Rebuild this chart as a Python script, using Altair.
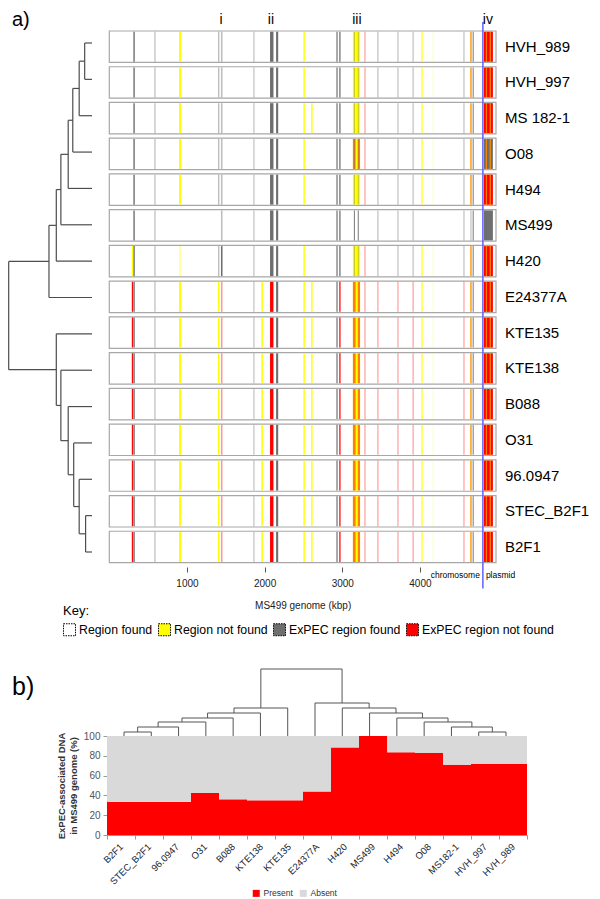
import altair as alt
import pandas as pd

FONT = "Liberation Sans"
W, H = 584, 891

# ---------------- panel a data ----------------
ROWS = ["HVH_989", "HVH_997", "MS 182-1", "O08", "H494", "MS499", "H420",
        "E24377A", "KTE135", "KTE138", "B088", "O31", "96.0947", "STEC_B2F1", "B2F1"]
GENOME_END = 4980          # kbp
PLASMID_START = 4811       # kbp
TICKS = [1000, 2000, 3000, 4000]
REGION_LABELS = ["i", "ii", "iii", "iv"]
REGION_POS = [1438, 2081, 3189, 4875]

# genomic features (kbp) and, per strain row (15 chars, order of ROWS), their state
# y: region not found, q: faint region not found, g: ExPEC found, l: faint ExPEC found,
# r: ExPEC not found, p: faint ExPEC not found, h: half ExPEC not found,
# o: overlapping not-found regions
FEAT_START = [290, 310, 580, 898, 1400, 1438, 1855, 1958, 2070, 2148, 2500, 2600,
              2925, 2962, 3137, 3137, 3200, 3150, 3200, 3285, 3452, 3710, 3905, 4020,
              4165, 4560, 4650, 4680, 4824, 4850, 4900]
FEAT_END = [305, 328, 596, 925, 1418, 1458, 1870, 1978, 2114, 2175, 2518, 2618,
            2940, 2978, 3229, 3172, 3229, 3162, 3212, 3300, 3467, 3725, 3920, 4035,
            4175, 4575, 4665, 4692, 4940, 4862, 4912]
FEAT_CODE = [
    "......yrrrrrrrr",
    "ggggggggggggggg",
    "lllllllllllllll",
    "yyyyy.qyyyyyyyy",
    "lllll.lyyyyyyyy",
    "llllllgpppppppp",
    "lllllllllllllll",
    ".......yyyyyyyy",
    "gggggggrrrrrrrr",
    "ggggggggggggggg",
    "yyyyy.yyyyyyyyy",
    "..y....yyyyyyyy",
    "ggggggggggggggg",
    "gggggggrrrrrrrr",
    "yyyyy.yyyyyyyyy",
    "...h...hhhhhhhh",
    "...h...hhhhhhhh",
    "lllllgl........",
    "lllllgl........",
    "ppppp.ppppppppp",
    "lllllllpppppppp",
    "lllllllpppppppp",
    "lllllllpppppppp",
    "yyyyy.yyyyyyyyy",
    "qqqqq.qqqqqqqqq",
    "lllllllpppppppp",
    "ooooolooooooooo",
    "ggggggggggggggg",
    "rrrgrgrrrrrrrrr",
    "ooooo.ooooooooo",
    "ooooo.ooooooooo",
]

KEY_CATS = ["Region found", "Region not found", "ExPEC region found", "ExPEC region not found"]
KEY_COLORS = ["#ffffff", "#ffff00", "#6e6e6e", "#ff0000"]
CODE_MAP = {
    "y": [("Region not found", 1.0)],
    "q": [("Region not found", 0.35)],
    "g": [("ExPEC region found", 1.0)],
    "l": [("ExPEC region found", 0.45)],
    "r": [("ExPEC region not found", 1.0)],
    "p": [("ExPEC region not found", 0.4)],
    "h": [("ExPEC region not found", 0.5)],
    "o": [("Region not found", 1.0), ("ExPEC region not found", 0.5)],
}

# dendrogram of panel a (leaves = ROWS order), merge heights in px-like units
DA_LEFT = [0, 15, 16, 17, 18, 19, 20, 13, 12, 11, 10, 9, 8, 21]
DA_RIGHT = [1, 2, 3, 4, 5, 6, 7, 14, 22, 23, 24, 25, 26, 27]
DA_HEIGHT = [8, 14, 21, 26, 34, 39, 47, 7, 14, 20, 26, 34, 39, 91]

# ---------------- panel b data ----------------
STRAINS_B = ["B2F1", "STEC_B2F1", "96.0947", "O31", "B088", "KTE138", "KTE135", "E24377A",
             "H420", "MS499", "H494", "O08", "MS182-1", "HVH_997", "HVH_989"]
PRESENT = [33.5, 33.5, 33.5, 42.5, 36, 35, 35, 44, 88.5, 100, 83.5, 83, 71, 72, 72]
Y_TICKS_B = [0, 20, 40, 60, 80, 100]
DB_LEFT = [0, 15, 16, 17, 18, 19, 13, 12, 11, 10, 9, 8, 7, 20]
DB_RIGHT = [1, 2, 3, 4, 5, 6, 14, 21, 22, 23, 24, 25, 26, 27]
DB_HEIGHT = [4, 9, 14, 18, 23, 28, 4, 9, 14, 18, 23, 28, 33, 67]


def dendro(n, left, right, height):
    pos = {i: (float(i), 0.0) for i in range(n)}
    segs = []
    for k, (a, b, h) in enumerate(zip(left, right, height)):
        pa, ha = pos[a]
        pb, hb = pos[b]
        segs.append(dict(p0=pa, p1=pb, h0=h, h1=h))
        segs.append(dict(p0=pa, p1=pa, h0=ha, h1=h))
        segs.append(dict(p0=pb, p1=pb, h0=hb, h1=h))
        pos[n + k] = ((pa + pb) / 2, h)
    return pd.DataFrame(segs)


# ---------------- tables ----------------
frames = pd.DataFrame({"row": range(len(ROWS)), "name": ROWS})
frames["y0"] = frames["row"]
frames["y1"] = frames["row"] + 0.88
frames["x0"] = 0
frames["x1"] = GENOME_END
frames["ylab"] = frames["row"] + 0.44

segs = []
for s, e, code in zip(FEAT_START, FEAT_END, FEAT_CODE):
    for r, c in enumerate(code):
        for cat, a in CODE_MAP.get(c, []):
            segs.append(dict(start=s, end=e, y0=r + 0.02, y1=r + 0.86, cat=cat, alpha=a))
seg_df = pd.DataFrame(segs)

xg = alt.Scale(domain=[0, GENOME_END], range=[101.3, 488])
yr = alt.Scale(domain=[0, 15], range=[23, 559])

row_frames = alt.Chart(frames).mark_rect(fill="white", stroke="#a8a8a8", strokeWidth=1.2).encode(
    x=alt.X("x0:Q", scale=xg, axis=None), x2="x1",
    y=alt.Y("y0:Q", scale=yr, axis=None), y2="y1")

bands = alt.Chart(seg_df).mark_rect().encode(
    x=alt.X("start:Q", scale=xg,
            axis=alt.Axis(orient="bottom", offset=559 - H, values=TICKS, format="d",
                          domain=False, grid=False, tickSize=5, tickColor="#555",
                          labelFont=FONT, labelFontSize=10, labelColor="#222", labelPadding=6,
                          title="MS499 genome (kbp)", titleFont=FONT, titleFontSize=10,
                          titleFontWeight="normal", titleColor="#222", titlePadding=12)),
    x2="end",
    y=alt.Y("y0:Q", scale=yr, axis=None), y2="y1",
    color=alt.Color("cat:N", scale=alt.Scale(domain=KEY_CATS, range=KEY_COLORS),
                    legend=alt.Legend(orient="none", legendX=55, legendY=597,
                                      direction="horizontal", title="Key:", titleAnchor="start",
                                      titleFont=FONT, titleFontSize=13, titleFontWeight="normal",
                                      titleColor="black", titlePadding=5,
                                      labelFont=FONT, labelFontSize=12.3, labelColor="black",
                                      symbolType="square", symbolSize=144,
                                      symbolStrokeColor="black", symbolStrokeWidth=1,
                                      symbolDash=[1.5, 1], symbolOpacity=1,
                                      columnPadding=3, labelOffset=3)),
    opacity=alt.Opacity("alpha:Q", scale=None))

row_labels = alt.Chart(frames).mark_text(align="left", baseline="middle", font=FONT,
                                         fontSize=15, color="black").encode(
    x=alt.value(497), y=alt.Y("ylab:Q", scale=yr, axis=None), text="name:N")

reg_df = pd.DataFrame({"lab": REGION_LABELS, "pos": REGION_POS, "yy": -0.3})
reg_labels = alt.Chart(reg_df).mark_text(baseline="middle", font=FONT, fontSize=14,
                                         color="black").encode(
    x=alt.X("pos:Q", scale=xg, axis=None), y=alt.Y("yy:Q", scale=yr, axis=None), text="lab:N")

split_df = pd.DataFrame({"x": [PLASMID_START], "ya": [-0.25], "yb": [15.6]})
blue = alt.Chart(split_df).mark_rule(color="#6060ff", strokeWidth=1.5).encode(
    x=alt.X("x:Q", scale=xg, axis=None), y=alt.Y("ya:Q", scale=yr, axis=None), y2="yb")

part_df = pd.DataFrame({"x": [PLASMID_START, PLASMID_START], "yy": [15.22, 15.22],
                        "t": ["chromosome", "plasmid"], "al": ["r", "l"]})
chromo = alt.Chart(part_df[part_df.al == "r"]).mark_text(align="right", dx=-3, baseline="middle",
                                                        font=FONT, fontSize=8.5, color="black").encode(
    x=alt.X("x:Q", scale=xg, axis=None), y=alt.Y("yy:Q", scale=yr, axis=None), text="t:N")
plasm = alt.Chart(part_df[part_df.al == "l"]).mark_text(align="left", dx=3, baseline="middle",
                                                       font=FONT, fontSize=8.5, color="black").encode(
    x=alt.X("x:Q", scale=xg, axis=None), y=alt.Y("yy:Q", scale=yr, axis=None), text="t:N")

da = dendro(len(ROWS), DA_LEFT, DA_RIGHT, DA_HEIGHT)
dend_a = alt.Chart(da).mark_rule(color="#4d4d4d", strokeWidth=1.2).encode(
    x=alt.X("h0:Q", scale=alt.Scale(domain=[0, 91], range=[84, 0.7]), axis=None), x2="h1",
    y=alt.Y("p0:Q", scale=alt.Scale(domain=[0, 14], range=[35, 544]), axis=None), y2="p1")

# ---------------- panel b ----------------
bar_rows = []
for s, p in zip(STRAINS_B, PRESENT):
    bar_rows.append(dict(strain=s, part="Present", lo=0, hi=p))
    bar_rows.append(dict(strain=s, part="Absent", lo=p, hi=100))
bar_df = pd.DataFrame(bar_rows)

xb = alt.Scale(domain=STRAINS_B, range=[99, 519], paddingInner=0, paddingOuter=0)
yb = alt.Scale(domain=[0, 100], range=[827, 728])
bars = alt.Chart(bar_df).mark_bar(strokeWidth=0).encode(
    x=alt.X("strain:N", scale=xb, sort=STRAINS_B,
            axis=alt.Axis(orient="bottom", offset=827 - H, labelAngle=-45, labelAlign="right",
                          labelBaseline="middle", labelFont=FONT, labelFontSize=9.5,
                          labelColor="#222", labelPadding=6, tickBand="extent", tickSize=4,
                          tickColor="#999", domainColor="#999", title=None, grid=False)),
    y=alt.Y("lo:Q", scale=yb,
            axis=alt.Axis(orient="left", offset=-99, values=Y_TICKS_B, grid=False,
                          tickSize=4, tickColor="#999", domainColor="#999",
                          labelFont=FONT, labelFontSize=10, labelColor="#555", labelPadding=3,
                          title=["ExPEC-associated DNA", "in MS499 genome (%)"],
                          titleFont=FONT, titleFontSize=9.5, titleFontWeight="bold",
                          titleColor="#333", titlePadding=5)),
    y2="hi",
    color=alt.Color("part:N", scale=alt.Scale(domain=["Present", "Absent"],
                                              range=["#ff0000", "#d9d9d9"]),
                    legend=alt.Legend(orient="none", legendX=244, legendY=881,
                                      direction="horizontal", title=None,
                                      labelFont=FONT, labelFontSize=8.5, labelColor="#333",
                                      symbolType="square", symbolSize=49, symbolStrokeWidth=0,
                                      columnPadding=6, labelOffset=3)))

db = dendro(len(STRAINS_B), DB_LEFT, DB_RIGHT, DB_HEIGHT)
dend_b = alt.Chart(db).mark_rule(color="#555", strokeWidth=1).encode(
    x=alt.X("p0:Q", scale=alt.Scale(domain=[0, 14], range=[116, 498]), axis=None), x2="p1",
    y=alt.Y("h0:Q", scale=alt.Scale(domain=[0, 100], range=[728, 628]), axis=None), y2="h1")

panel_df = pd.DataFrame({"t": ["a)"]})
lab_a = alt.Chart(panel_df).mark_text(align="left", baseline="alphabetic", font=FONT,
                                      fontSize=20, color="black").encode(
    x=alt.value(4), y=alt.value(18), text="t:N")
panel_df2 = pd.DataFrame({"t": ["b)"]})
lab_b = alt.Chart(panel_df2).mark_text(align="left", baseline="alphabetic", font=FONT,
                                       fontSize=25, color="black").encode(
    x=alt.value(4), y=alt.value(687), text="t:N")

chart = alt.layer(
    row_frames, bands, blue, row_labels, reg_labels, chromo, plasm, dend_a,
    bars, dend_b, lab_a, lab_b
).resolve_scale(
    x="independent", y="independent", color="independent"
).resolve_axis(
    x="independent", y="independent"
).resolve_legend(color="independent").properties(
    width=W, height=H, autosize=alt.AutoSizeParams(type="none"), padding=0
).configure_view(stroke=None)

chart.save("out.html", embed_options={"renderer": "svg", "actions": False})
